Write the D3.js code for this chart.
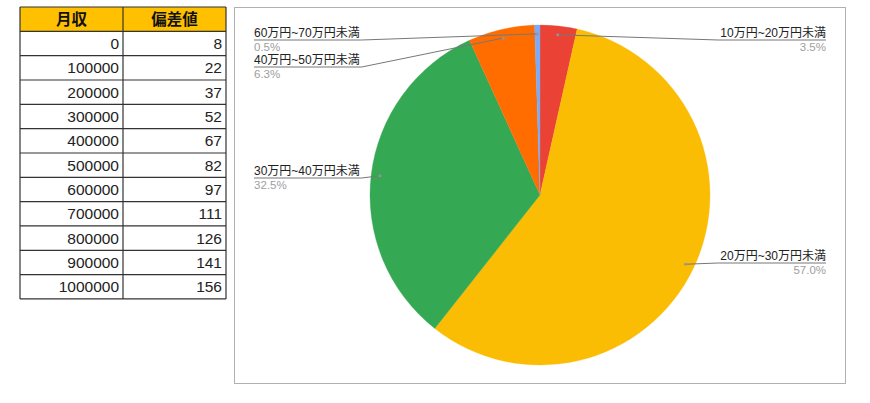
<!DOCTYPE html>
<html><head><meta charset="utf-8">
<script src="https://cdn.jsdelivr.net/npm/d3@7"></script>
<style>
html,body{margin:0;padding:0;background:#fff;}
svg{display:block;}
</style></head>
<body>
<svg id="c" width="870" height="403"></svg>
<script>
// ---- data ----
const tableHeaders = ["月収", "偏差値"];
const incomes = [0, 100000, 200000, 300000, 400000, 500000, 600000, 700000, 800000, 900000, 1000000];
const deviations = [8, 22, 37, 52, 67, 82, 97, 111, 126, 141, 156];

const sliceLabels = ["10万円~20万円未満", "20万円~30万円未満", "30万円~40万円未満", "40万円~50万円未満", "60万円~70万円未満"];
const sliceValues = [3.5, 57.0, 32.5, 6.3, 0.5];
const sliceColors = ["#EA4335", "#FBBC04", "#34A853", "#FF6D01", "#7BAAF7"];

// ---- layout ----
const svg = d3.select("#c");
const cjk = "'Liberation Sans', Arial, 'Noto Sans CJK JP', sans-serif";

// table
const tbl = {x0: 20, xMid: 123, x1: 226, y0: 7, rowH: 24.33};
const rows = incomes.length + 1;
const tg = svg.append("g");
tg.append("rect").attr("x", tbl.x0).attr("y", tbl.y0)
  .attr("width", tbl.x1 - tbl.x0).attr("height", tbl.rowH)
  .attr("fill", "#FFC000");
const yRow = d3.scaleLinear().domain([0, rows]).range([tbl.y0, tbl.y0 + rows * tbl.rowH]);
for (let i = 0; i <= rows; i++) {
  tg.append("line").attr("x1", tbl.x0).attr("x2", tbl.x1)
    .attr("y1", yRow(i)).attr("y2", yRow(i))
    .attr("stroke", "#333").attr("stroke-width", 1.2);
}
[tbl.x0, tbl.xMid, tbl.x1].forEach(x => {
  tg.append("line").attr("x1", x).attr("x2", x)
    .attr("y1", yRow(0)).attr("y2", yRow(rows))
    .attr("stroke", "#333").attr("stroke-width", 1.2);
});
tg.selectAll("text.h").data(tableHeaders).join("text")
  .attr("x", (d, i) => i === 0 ? (tbl.x0 + tbl.xMid) / 2 : (tbl.xMid + tbl.x1) / 2)
  .attr("y", yRow(0.5) + 5.5)
  .attr("text-anchor", "middle")
  .attr("font-family", "'Noto Sans CJK JP', sans-serif")
  .attr("font-weight", "bold").attr("font-size", 15.5).attr("fill", "#111")
  .text(d => d);
tg.selectAll("text.a").data(incomes).join("text")
  .attr("x", tbl.xMid - 4).attr("y", (d, i) => yRow(i + 1.5) + 5.5)
  .attr("text-anchor", "end")
  .attr("font-family", "'Liberation Sans', Arial, sans-serif")
  .attr("font-size", 15.5).attr("fill", "#222").text(d => d);
tg.selectAll("text.b").data(deviations).join("text")
  .attr("x", tbl.x1 - 4).attr("y", (d, i) => yRow(i + 1.5) + 5.5)
  .attr("text-anchor", "end")
  .attr("font-family", "'Liberation Sans', Arial, sans-serif")
  .attr("font-size", 15.5).attr("fill", "#222").text(d => d);

// chart frame
svg.append("rect").attr("x", 234.5).attr("y", 7.5).attr("width", 611).attr("height", 376)
  .attr("fill", "#fff").attr("stroke", "#b0b0b0").attr("stroke-width", 1);

// pie
const cx = 540, cy = 195, R = 170;
const pie = d3.pie().sort(null).value(d => d)(sliceValues);
const arc = d3.arc().innerRadius(0).outerRadius(R);
const pg = svg.append("g").attr("transform", `translate(${cx},${cy})`);
pg.selectAll("path").data(pie).join("path")
  .attr("d", arc).attr("fill", (d, i) => sliceColors[i])
  .attr("stroke", (d, i) => sliceColors[i]).attr("stroke-width", 0.3);

// label anchors (layout only)
const labelLayout = [
  {side: "right", x: 826, y: 40},
  {side: "right", x: 826, y: 263},
  {side: "left",  x: 254, y: 178},
  {side: "left",  x: 254, y: 67},
  {side: "left",  x: 254, y: 40}
];
const dotR = R * 0.948;
const lg = svg.append("g");
pie.forEach((p, i) => {
  const L = labelLayout[i];
  const a = (p.startAngle + p.endAngle) / 2;
  const dx = cx + dotR * Math.sin(a), dy = cy - dotR * Math.cos(a);
  const anchor = L.side === "left" ? "start" : "end";
  const t = lg.append("text").attr("x", L.x).attr("y", L.y - 3)
    .attr("text-anchor", anchor).attr("font-family", cjk)
    .attr("font-size", 12).attr("fill", "#222").text(sliceLabels[i]);
  const w = t.node().getComputedTextLength();
  lg.append("text").attr("x", L.x).attr("y", L.y + 10.5)
    .attr("text-anchor", anchor).attr("font-family", cjk)
    .attr("font-size", 11.5).attr("fill", "#9e9e9e")
    .text(sliceValues[i].toFixed(1) + "%");
  const near = L.side === "left" ? L.x + w + 2 : L.x - w - 2;
  const path = d3.path();
  path.moveTo(dx, dy);
  path.lineTo(near, L.y);
  path.lineTo(L.x, L.y);
  lg.append("path").attr("d", path.toString()).attr("fill", "none")
    .attr("stroke", "#777").attr("stroke-width", 1);
  lg.append("circle").attr("cx", dx).attr("cy", dy).attr("r", 1.6)
    .attr("fill", "#999").attr("opacity", 0.8);
});
</script>
</body></html>
